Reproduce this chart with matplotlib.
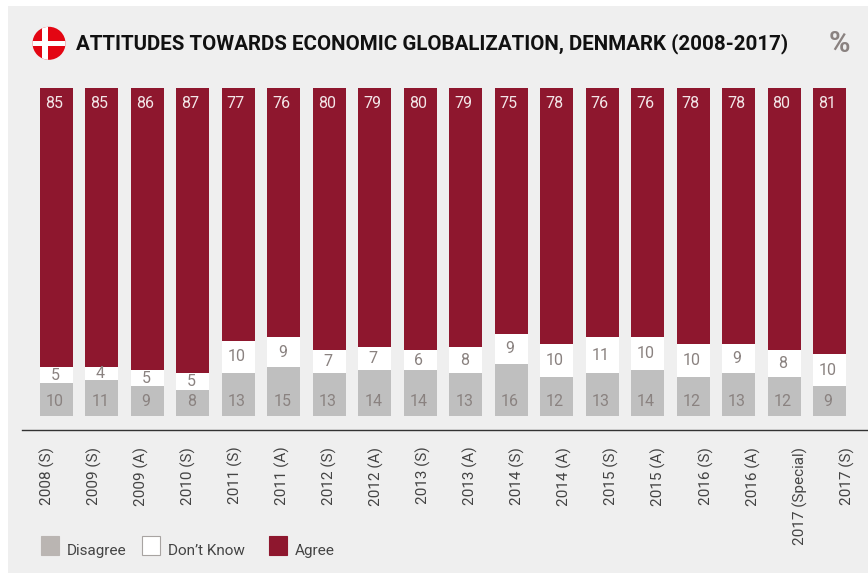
import matplotlib
matplotlib.use('Agg')
import matplotlib.pyplot as plt
import numpy as np
from matplotlib.patches import Circle, Rectangle

plt.rcParams['font.family'] = ['Roboto', 'DejaVu Sans']

periods = ['2008 (S)', '2009 (S)', '2009 (A)', '2010 (S)', '2011 (S)', '2011 (A)',
           '2012 (S)', '2012 (A)', '2013 (S)', '2013 (A)', '2014 (S)', '2014 (A)',
           '2015 (S)', '2015 (A)', '2016 (S)', '2016 (A)', '2017 (Special)', '2017 (S)']
disagree = [10, 11, 9, 8, 13, 15, 13, 14, 14, 13, 16, 12, 13, 14, 12, 13, 12, 9]
dont_know = [5, 4, 5, 5, 10, 9, 7, 7, 6, 8, 9, 10, 11, 10, 10, 9, 8, 10]
agree = [85, 85, 86, 87, 77, 76, 80, 79, 80, 79, 75, 78, 76, 76, 78, 78, 80, 81]

RED = '#8E172E'
GREY = '#BFBFBF'
NUM_GREY = '#8A8280'
TEXT = '#444444'
W, H = 868, 574
STEP = 45.47  # px between bars
X0 = 56.5     # px centre of first bar
PX_UNIT = 3.28

fig = plt.figure(figsize=(W / 100, H / 100), dpi=100, facecolor='white')

# overlay in pixel coords for panel, flag, title, legend
bg = fig.add_axes([0, 0, 1, 1], zorder=0)
bg.set_xlim(0, W)
bg.set_ylim(H, 0)
bg.axis('off')
bg.add_patch(Rectangle((8, 6), W - 8, 567, color='#EFEFEF', lw=0))

flag = Circle((49, 43.3), 16.5, color='#E30613', lw=0)
bg.add_patch(flag)
for r in [Rectangle((42, 20), 5.5, 48, color='white', lw=0),
          Rectangle((28, 41), 44, 5, color='white', lw=0)]:
    bg.add_patch(r)
    r.set_clip_path(flag)

bg.text(76, 44, 'ATTITUDES TOWARDS ECONOMIC GLOBALIZATION, DENMARK (2008-2017)',
        fontsize=14.8, fontweight='bold', color='#111111', va='center', ha='left')
bg.text(839.5, 44, '%', fontsize=21, fontweight='bold', color=NUM_GREY, va='center', ha='center')

legend_items = [('Disagree', 40, '#BAB5B2', '#BAB5B2'),
                ('Don\u2019t Know', 141, 'white', '#A8A4A2'),
                ('Agree', 268, RED, RED)]
for name, lx, fc, ec in legend_items:
    bg.add_patch(Rectangle((lx + 0.5, 536), 18.5, 18.5, facecolor=fc, edgecolor=ec, lw=0.8))
    bg.text(lx + 27, 555, name, fontsize=11, color=TEXT, va='baseline', ha='left')

# chart axes, placed so one value unit is PX_UNIT px
left, right, top, bottom = 22, 867, 88, 430
ax = fig.add_axes([left / W, 1 - bottom / H, (right - left) / W, (bottom - top) / H], zorder=1)
ax.patch.set_alpha(0)
ax.set_xlim((left - X0) / STEP, (right - X0) / STEP)
ax.set_ylim(-(bottom - 416) / PX_UNIT, 100)

x = np.arange(len(periods))
d = np.array(disagree)
k = np.array(dont_know)
a = np.array(agree)
ax.bar(x, d, width=0.726, color=GREY)
ax.bar(x, k, width=0.726, bottom=d, color='white')
ax.bar(x, a, width=0.726, bottom=d + k, color=RED)

for i in x:
    ax.annotate(str(d[i]), (i, 0), xytext=(-1.5, 14.5), textcoords='offset pixels',
                ha='center', va='center', fontsize=11.5, color=NUM_GREY)
    ax.annotate(str(k[i]), (i, d[i] + k[i] / 2), xytext=(-1.5, 0), textcoords='offset pixels',
                ha='center', va='center', fontsize=11.5, color=NUM_GREY)
    ax.annotate(str(a[i]), (i, 100), xytext=(-2.5, -15), textcoords='offset pixels',
                ha='center', va='center', fontsize=11.5, color='#F3E6E8')

for s in ['top', 'left', 'right']:
    ax.spines[s].set_visible(False)
ax.spines['bottom'].set_color('#333333')
ax.spines['bottom'].set_linewidth(1.0)
ax.set_yticks([])

# tick labels sit on a slightly wider grid than the bars
ax.set_xticks((47 + x * 47.06 - X0) / STEP)
ax.set_xticklabels(periods, rotation=90, fontsize=11, color=TEXT, va='top', ha='center')
ax.tick_params(axis='x', length=0, pad=12)

plt.savefig('out.png', dpi=100, facecolor=fig.get_facecolor())
